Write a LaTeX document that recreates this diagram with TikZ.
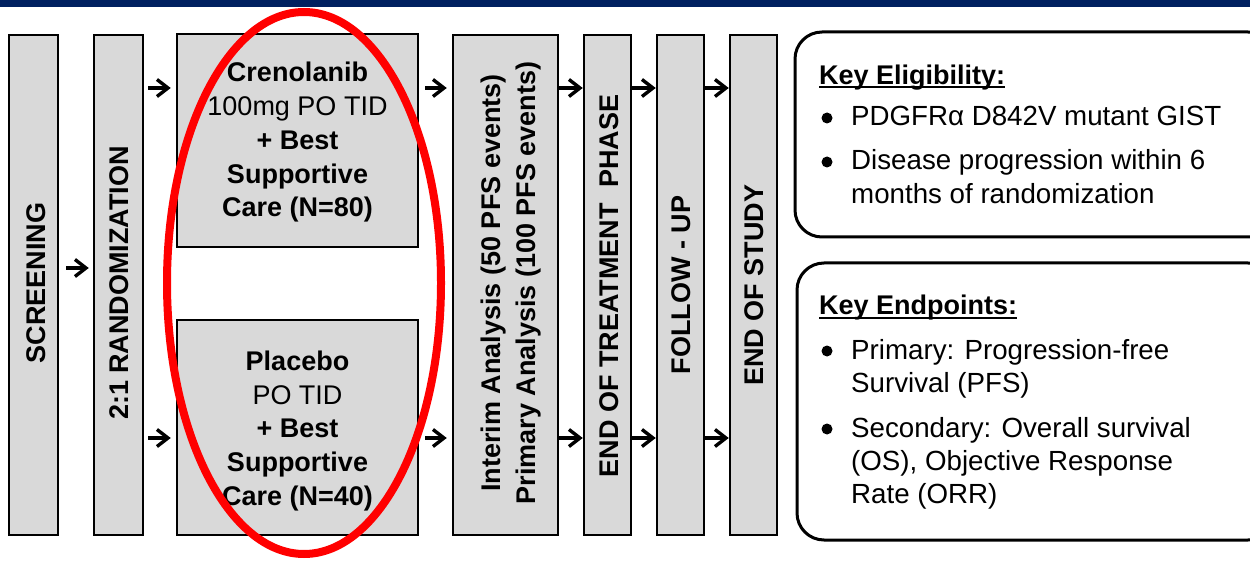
\documentclass[tikz,border=0pt]{standalone}
\usepackage{fontspec}
\setmainfont{Liberation Sans}
\usetikzlibrary{arrows.meta}
\definecolor{navy}{HTML}{002060}
\definecolor{boxgray}{HTML}{D9D9D9}
% heading with a heavy underline
\newcommand\keyhead[1]{\setbox0=\hbox{#1}\rlap{\rule[-3.5pt]{\wd0}{2pt}}\box0}
\begin{document}
\begin{tikzpicture}[x=1pt,y=-1pt,
  gbox/.style={draw=black, line width=2.5pt, fill=boxgray, inner sep=0pt},
  ibox/.style={draw=black, line width=3pt, fill=white, rounded corners=27pt, inner sep=0pt},
  vlab/.style={rotate=90, anchor=base, inner sep=0pt, font=\bfseries\fontsize{27}{32}\selectfont},
  blab/.style={anchor=base, inner sep=0pt, font=\bfseries\fontsize{27}{32}\selectfont},
  rlab/.style={anchor=base, inner sep=0pt, font=\fontsize{27}{32}\selectfont},
  hlab/.style={anchor=base west, inner sep=0pt, font=\bfseries\fontsize{27}{32}\selectfont},
  tlab/.style={anchor=base west, inner sep=0pt, font=\fontsize{27.7}{32}\selectfont},
  flow/.style={line width=3.4pt, -{Straight Barb[length=11pt,width=17pt]}},
  dot/.style={fill=black}]
\useasboundingbox (0,0) rectangle (1250,561);
\clip (0,0) rectangle (1250,561);

% header band
\fill[navy] (0,0) rectangle (1250,7);

% study phases
\node[gbox, minimum width=49pt, minimum height=500pt] (scr) at (33.5,285) {};
\node[gbox, minimum width=49pt, minimum height=500pt] (rnd) at (118.5,285) {};
\node[gbox, minimum width=241pt, minimum height=213pt] (cre) at (297.5,140.5) {};
\node[gbox, minimum width=241pt, minimum height=215pt] (pla) at (297.5,427.5) {};
\node[gbox, minimum width=105pt, minimum height=500pt] (ana) at (505.5,285) {};
\node[gbox, minimum width=47pt, minimum height=500pt] (eot) at (607.5,285) {};
\node[gbox, minimum width=47pt, minimum height=500pt] (fup) at (680.5,285) {};
\node[gbox, minimum width=47pt, minimum height=500pt] (eos) at (753.5,285) {};

\node[vlab] (scrT) at (45,283) {SCREENING};
\node[vlab] (rndT) at (128,283) {2:1 RANDOMIZATION};
\node[vlab] (anaA) at (500,283) {Interim Analysis (50 PFS events)};
\node[vlab] (anaB) at (535,283) {Primary Analysis (100 PFS events)};
\node[vlab] (eotT) at (618,286) {END OF TREATMENT\hspace{0.3em} PHASE};
\node[vlab] (fupT) at (690,285) {FOLLOW - UP};
\node[vlab] (eosT) at (763,285) {END OF STUDY};

% treatment arms
\node[blab] (cre1) at (297.5,82) {Crenolanib};
\node[rlab] (cre2) at (297.5,116) {100mg PO TID};
\node[blab] (cre3) at (297.5,150) {+ Best};
\node[blab] (cre4) at (297.5,184) {Supportive};
\node[blab] (cre5) at (297.5,217) {Care (N=80)};
\node[blab] (pla1) at (297.5,370) {Placebo};
\node[rlab] (pla2) at (297.5,404) {PO TID};
\node[blab] (pla3) at (297.5,437.5) {+ Best};
\node[blab] (pla4) at (297.5,471) {Supportive};
\node[blab] (pla5) at (297.5,505) {Care (N=40)};

% connectors
\coordinate (ymid) at (0,268);
\coordinate (yup) at (0,88);
\coordinate (ylow) at (0,438);
\draw[flow, shorten <=7pt, shorten >=4pt] (scr.east |- ymid) -- (rnd.west |- ymid);
\draw[flow, shorten <=4pt, shorten >=5pt] (rnd.east |- yup) -- (cre.west |- yup);
\draw[flow, shorten <=4pt, shorten >=5pt] (rnd.east |- ylow) -- (pla.west |- ylow);
\draw[flow, shorten <=6pt, shorten >=5pt] (cre.east |- yup) -- (ana.west |- yup);
\draw[flow, shorten <=6pt, shorten >=5pt] (pla.east |- ylow) -- (ana.west |- ylow);
\draw[flow] (ana.east |- yup) -- (eot.west |- yup);
\draw[flow] (ana.east |- ylow) -- (eot.west |- ylow);
\draw[flow] (eot.east |- yup) -- (fup.west |- yup);
\draw[flow] (eot.east |- ylow) -- (fup.west |- ylow);
\draw[flow] (fup.east |- yup) -- (eos.west |- yup);
\draw[flow] (fup.east |- ylow) -- (eos.west |- ylow);

% information panels
\node[ibox, minimum width=480pt, minimum height=205pt] (elig) at (1035,134.5) {};
\node[ibox, minimum width=478pt, minimum height=277pt] (endp) at (1036,401.5) {};

\node[hlab] (eligH) at (819,85) {\keyhead{Key Eligibility:}};
\fill[dot] (827,118) circle (5.5pt);
\node[tlab] (elig1) at (851,126) {PDGFRα D842V mutant GIST};
\fill[dot] (827,162) circle (5.5pt);
\node[tlab] (elig2) at (851,170) {Disease progression within 6};
\node[tlab] (elig3) at (851,204) {months of randomization};

\node[hlab] (endpH) at (819,315) {\keyhead{Key Endpoints:}};
\fill[dot] (827,351) circle (5.5pt);
\node[tlab] (endp1) at (851,359) {Primary: Progression-free};
\node[tlab] (endp2) at (851,392) {Survival (PFS)};
\fill[dot] (827,429) circle (5.5pt);
\node[tlab] (endp3) at (851,437) {Secondary: Overall survival};
\node[tlab] (endp4) at (851,470) {(OS), Objective Response};
\node[tlab] (endp5) at (851,503) {Rate (ORR)};

% highlight around both arms
\draw[red, line width=8pt] (304,283) ellipse [x radius=137pt, y radius=271pt];
\end{tikzpicture}
\end{document}
